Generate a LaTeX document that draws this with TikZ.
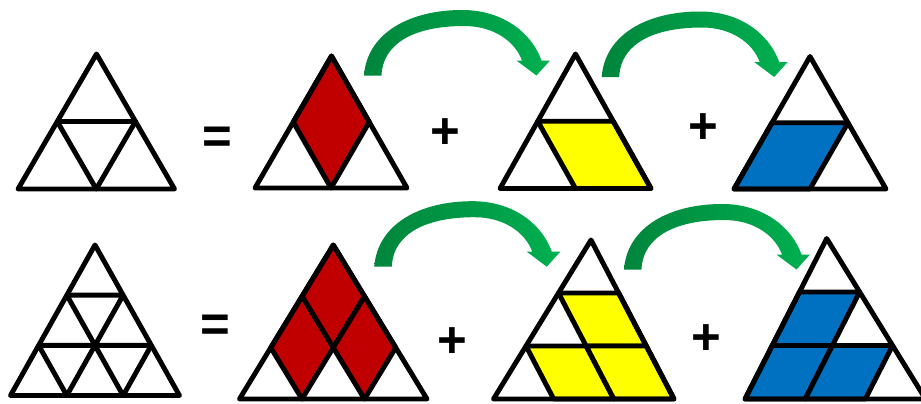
\documentclass[tikz,border=0pt]{standalone}
\usepackage{fontspec}
\setsansfont{Liberation Sans}
\definecolor{ink}{HTML}{000000}
\definecolor{ruby}{HTML}{C00000}
\definecolor{lemon}{HTML}{FFFF00}
\definecolor{ocean}{HTML}{0070C0}
\definecolor{leafdark}{HTML}{00853C}
\definecolor{leaf}{HTML}{00B050}

\begin{document}
\begin{tikzpicture}[x=0.02cm,y=-0.02cm,
  font=\sffamily\bfseries\fontsize{29}{29}\selectfont,text=ink,
  edge/.style={draw=ink,line width=2.8pt,line join=round},
  piece/.style={edge,fill=#1},
  sign/.style={inner sep=0pt}]
  \fill[white] (0,0) rectangle (921,403);
  \useasboundingbox (0,0) rectangle (921,403);

  % Row 1: sides cut in two
  \begin{scope}[shift={(96.5,54)},y={(-39.25,67.5)},x={(78.25,0)}]
    \draw[edge] (0,0)--(0,2)--(2,2)--cycle;
    \draw[edge] (0,1)--(1,1)--(1,2)--cycle;
  \end{scope}
  \node[sign] (eqA) at (217,140) {=};

  \begin{scope}[shift={(331.5,56)},y={(-38.25,66)},x={(76,0)}]
    \draw[piece=ruby] (0,0)--(0,1)--(1,2)--(1,1)--cycle;
    \draw[edge] (0,0)--(0,2)--(2,2)--cycle;
  \end{scope}
  \node[sign] (plusA1) at (445,134) {+};

  \begin{scope}[shift={(575.5,54)},y={(-37.75,67.25)},x={(75.5,0)}]
    \draw[piece=lemon] (0,1)--(1,1)--(2,2)--(1,2)--cycle;
    \draw[edge] (0,0)--(0,2)--(2,2)--cycle;
  \end{scope}
  \node[sign] (plusA2) at (703,129) {+};

  \begin{scope}[shift={(810,56.5)},y={(-38,66.25)},x={(76,0)}]
    \draw[piece=ocean] (0,1)--(1,1)--(1,2)--(0,2)--cycle;
    \draw[edge] (0,0)--(0,2)--(2,2)--cycle;
  \end{scope}

  % Row 2: sides cut in three
  \begin{scope}[shift={(95,245)},y={(-28.17,50.17)},x={(56.33,0)}]
    \draw[edge] (0,1)--(1,1) (0,2)--(2,2) (1,1)--(1,3) (2,2)--(2,3)
      (0,1)--(2,3) (0,2)--(1,3);
    \draw[edge] (0,0)--(0,3)--(3,3)--cycle;
  \end{scope}
  \node[sign] (eqB) at (215,328) {=};

  \begin{scope}[shift={(333.3,245)},y={(-31.27,51.33)},x={(62.5,0)}]
    \draw[piece=ruby] (0,0)--(0,1)--(1,2)--(1,1)--cycle;
    \draw[piece=ruby] (0,1)--(0,2)--(1,3)--(1,2)--cycle;
    \draw[piece=ruby] (1,1)--(1,2)--(2,3)--(2,2)--cycle;
    \draw[edge] (0,0)--(0,3)--(3,3)--cycle;
  \end{scope}
  \node[sign] (plusB1) at (452,343) {+};

  \begin{scope}[shift={(591,240)},y={(-32.5,53)},x={(60.17,0)}]
    \draw[piece=lemon] (0,1)--(1,1)--(2,2)--(1,2)--cycle;
    \draw[piece=lemon] (0,2)--(1,2)--(2,3)--(1,3)--cycle;
    \draw[piece=lemon] (1,2)--(2,2)--(3,3)--(2,3)--cycle;
    \draw[edge] (0,0)--(0,3)--(3,3)--cycle;
  \end{scope}
  \node[sign] (plusB2) at (706,340) {+};

  \begin{scope}[shift={(826.7,238.5)},y={(-27.23,53.5)},x={(60.17,0)}]
    \draw[piece=ocean] (0,1)--(1,1)--(1,2)--(0,2)--cycle;
    \draw[piece=ocean] (0,2)--(1,2)--(1,3)--(0,3)--cycle;
    \draw[piece=ocean] (1,2)--(2,2)--(2,3)--(1,3)--cycle;
    \draw[edge] (0,0)--(0,3)--(3,3)--cycle;
  \end{scope}

  % Green bent arrows
  \foreach \ax/\ay in {364/75.5, 601.7/77, 374.3/266.7, 624/269.5}
    \shade[left color=leafdark,right color=leaf,shift={(\ax,\ay)}]
      (0,0) .. controls (3,-42) and (45,-66) .. (100,-65.5)
      .. controls (140,-64.8) and (168,-42) .. (177.5,-15)
      -- (186,-15) -- (172.5,0) -- (152.5,-15) -- (158,-15)
      .. controls (151,-34) and (130,-49.5) .. (100,-49.5)
      .. controls (55,-49.5) and (19,-35) .. (17.5,0) -- cycle;
\end{tikzpicture}
\end{document}
